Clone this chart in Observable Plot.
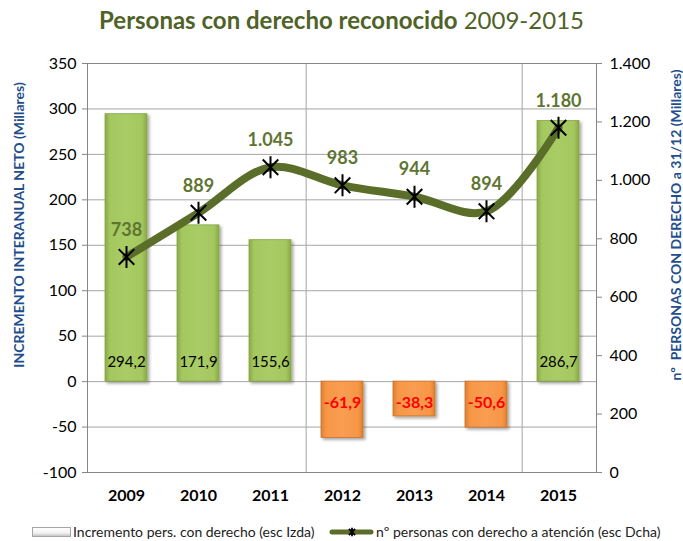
<!DOCTYPE html>
<html><head><meta charset="utf-8">
<script src="https://cdn.jsdelivr.net/npm/d3@7"></script>
<script src="https://cdn.jsdelivr.net/npm/@observablehq/plot@0.6"></script>
<style>
body{margin:0;background:#fff;font-family:Lato,"Open Sans",sans-serif;}
#wrap{position:relative;width:683px;height:541px;overflow:hidden;}
#title{position:absolute;top:5px;left:0;width:683px;text-align:center;font-size:24px;color:#4f6228;white-space:nowrap;}
.ytitle{position:absolute;white-space:nowrap;font-weight:bold;font-size:14px;color:#1f4e8c;transform:translate(-50%,-50%) rotate(-90deg);}
#legend{position:absolute;top:523px;left:0;width:683px;height:17px;font-size:14px;line-height:17px;color:#222;white-space:nowrap;}
#legend .item{position:absolute;top:0;height:17px;display:flex;align-items:center;}
#legend svg{margin-right:1px;}
</style></head><body>
<div id="wrap">
<div id="chart"></div>
<div id="title"><b>Personas con derecho reconocido</b> 2009-2015</div>
<div class="ytitle" style="left:18px;top:225px;">INCREMENTO INTERANUAL NETO (Millares)</div>
<div class="ytitle" style="left:675px;top:225px;">nº&nbsp; PERSONAS CON DERECHO a 31/12 (Millares)</div>
<div id="legend"></div>
</div>
<script>
const years = ["2009","2010","2011","2012","2013","2014","2015"];
const increments = [294.2,171.9,155.6,-61.9,-38.3,-50.6,286.7];
const totals = [738,889,1045,983,944,894,1180];
const leftTicks = [-100,-50,0,50,100,150,200,250,300,350];
const rightTicks = [0,200,400,600,800,1000,1200,1400];
const boundaryYears = ["2012","2015"];
const legendBar = "Incremento pers. con derecho (esc Izda)";
const legendLine = "nº personas con derecho a atención (esc Dcha)";

const loc = d3.formatLocale({decimal:",", thousands:".", grouping:[3], currency:["","€"], minus:"-"});
const fmtInt = loc.format(",d");
const fmt1 = loc.format(",.1f");

const leftMin = -100, leftMax = 350, rightMax = 1400;
const toLeft = v => leftMin + v * (leftMax - leftMin) / rightMax;
const toRight = l => (l - leftMin) * rightMax / (leftMax - leftMin);

const data = years.map((y, i) => ({year: y, inc: increments[i], tot: totals[i]}));

const W = 683, H = 541, ML = 87, MR = 87, MT = 63, MB = 69;
const step = (W - ML - MR) / years.length;
const gridColor = "#a6a6a6";

// X with a vertical stroke, like the Excel "star" marker
const starSymbol = {
  draw(context, size) {
    const s = Math.sqrt(size / Math.PI);
    const d = s * Math.SQRT1_2;
    context.moveTo(-d, -d); context.lineTo(d, d);
    context.moveTo(-d, d); context.lineTo(d, -d);
    context.moveTo(0, -s); context.lineTo(0, s);
  }
};

const defsMark = () => {
  const g = d3.create("svg:g");
  g.html(`<defs>
    <linearGradient id="gGreen" x1="0" x2="1" y1="0" y2="0">
      <stop offset="0" stop-color="#89aa45"/>
      <stop offset="0.12" stop-color="#a4c75f"/>
      <stop offset="0.5" stop-color="#a9cc66"/>
      <stop offset="0.88" stop-color="#a4c75f"/>
      <stop offset="1" stop-color="#89aa45"/>
    </linearGradient>
    <linearGradient id="gOrange" x1="0" x2="1" y1="0" y2="0">
      <stop offset="0" stop-color="#e0802f"/>
      <stop offset="0.12" stop-color="#f79646"/>
      <stop offset="0.5" stop-color="#f99d52"/>
      <stop offset="0.88" stop-color="#f79646"/>
      <stop offset="1" stop-color="#e0802f"/>
    </linearGradient>
    <filter id="shadow" x="-20%" y="-20%" width="140%" height="140%">
      <feDropShadow dx="2" dy="2" stdDeviation="1.5" flood-color="#000" flood-opacity="0.35"/>
    </filter>
  </defs>`);
  return g.node();
};

const chart = Plot.plot({
  width: W, height: H,
  marginLeft: ML, marginRight: MR, marginTop: MT, marginBottom: MB,
  style: {fontFamily: "Lato, 'Open Sans', sans-serif", fontSize: "16px", color: "#000", background: "transparent"},
  x: {domain: years, paddingInner: 0.42, paddingOuter: 0.21, axis: null},
  y: {domain: [leftMin, leftMax], axis: null},
  marks: [
    defsMark,
    Plot.ruleY(leftTicks, {stroke: gridColor, strokeWidth: 1}),
    Plot.ruleX(boundaryYears, {x: d => d, dx: -step / 2, stroke: gridColor, strokeWidth: 1}),
    Plot.frame({stroke: "#868686", strokeWidth: 1}),
    Plot.barY(data.filter(d => d.inc >= 0), {x: "year", y: "inc", fill: "url(#gGreen)", stroke: "#86a544", strokeWidth: 0.8}),
    Plot.barY(data.filter(d => d.inc < 0), {x: "year", y: "inc", fill: "url(#gOrange)", stroke: "#c5702c", strokeWidth: 0.8}),
    Plot.text(data.filter(d => d.inc >= 0), {x: "year", y: 0, text: d => fmt1(d.inc), dy: -19, fill: "#000", fontSize: 15}),
    Plot.text(data.filter(d => d.inc < 0), {x: "year", y: 0, text: d => fmt1(d.inc), dy: 21, fill: "#ff0000", fontSize: 16, fontWeight: "bold"}),
    Plot.line(data, {x: "year", y: d => toLeft(d.tot), stroke: "#5a6e2a", strokeWidth: 8, curve: "catmull-rom", strokeLinecap: "round"}),
    Plot.dot(data, {x: "year", y: d => toLeft(d.tot), symbol: starSymbol, r: 11, stroke: "#000", strokeWidth: 2}),
    Plot.text(data, {x: "year", y: d => toLeft(d.tot), text: d => fmtInt(d.tot), dy: -27, fill: "#5f7532", fontSize: 18, fontWeight: "bold"}),
    Plot.axisY({anchor: "left", ticks: leftTicks, tickFormat: d => fmtInt(d), tickSize: 5, tickPadding: 6, stroke: "#868686", label: null, fontSize: 16}),
    Plot.axisY({anchor: "right", ticks: rightTicks.map(toLeft), tickFormat: d => fmtInt(Math.round(toRight(d))), tickSize: 5, tickPadding: 8, stroke: "#868686", label: null, fontSize: 16}),
    Plot.axisX({anchor: "bottom", tickSize: 0, tickPadding: 17, label: null, fontWeight: "bold", fontSize: 16})
  ]
});
document.getElementById("chart").appendChild(chart);

// legend
const leg = d3.select("#legend");
const item1 = leg.append("div").attr("class", "item").style("left", "32px");
const s1 = item1.append("svg").attr("width", 40).attr("height", 10);
s1.append("defs").html(`<linearGradient id="lg" x1="0" x2="0" y1="0" y2="1"><stop offset="0" stop-color="#ffffff"/><stop offset="0.6" stop-color="#f2f2f2"/><stop offset="1" stop-color="#bfbfbf"/></linearGradient>`);
s1.append("rect").attr("x", 0.5).attr("y", 0.5).attr("width", 38).attr("height", 9).attr("fill", "url(#lg)").attr("stroke", "#a6a6a6");
item1.append("span").text(legendBar);
const item2 = leg.append("div").attr("class", "item").style("left", "329px");
const s2 = item2.append("svg").attr("width", 46).attr("height", 12);
s2.append("line").attr("x1", 3).attr("x2", 42).attr("y1", 6).attr("y2", 6).attr("stroke", "#5a6e2a").attr("stroke-width", 5).attr("stroke-linecap", "round");
s2.append("path").attr("transform", "translate(23,6)").attr("d", d3.symbol(starSymbol, 60)()).attr("stroke", "#000").attr("stroke-width", 1.8);
item2.append("span").text(legendLine);

// bar shadows
d3.select(chart).selectAll("g[aria-label='bar']").attr("filter", "url(#shadow)");
</script>
</body></html>
